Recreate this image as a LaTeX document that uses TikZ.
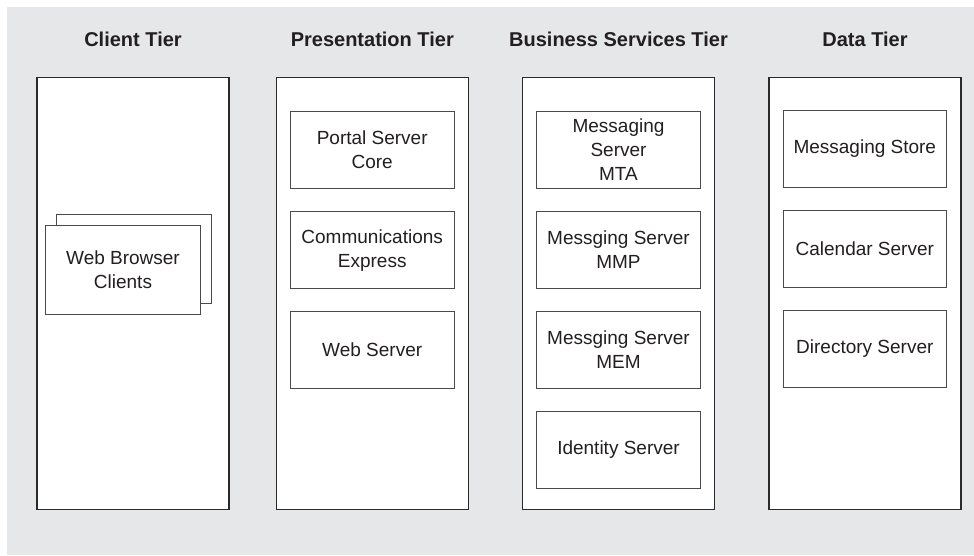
\documentclass[tikz,border=0pt]{standalone}
\usepackage{fontspec}
\setmainfont{Liberation Sans}
\definecolor{bgc}{HTML}{E6E7E8}
\definecolor{txtc}{HTML}{231F20}
\definecolor{tierc}{HTML}{2A2A2A}
\definecolor{compc}{HTML}{4A4A4A}
\begin{document}
\begin{tikzpicture}[x=1pt,y=-1pt,
  tier/.style={draw=tierc, line width=1.3pt, fill=white, inner sep=0pt,
    minimum width=192pt, minimum height=432pt},
  comp/.style={draw=compc, line width=0.9pt, fill=white, inner sep=0pt,
    minimum width=163.5pt, minimum height=77pt, align=center, text=txtc,
    font=\fontsize{19}{24}\selectfont},
  header/.style={anchor=base, text=txtc, font=\bfseries\fontsize{20}{24}\selectfont}]
\useasboundingbox (0,0) rectangle (974,555);
\fill[white] (0,0) rectangle (974,555);
\fill[bgc] (7,7) rectangle (974,555);

% headers
\node[header] (h1) at (133,46.5) {Client Tier};
\node[header] (h2) at (372.3,46.5) {Presentation Tier};
\node[header] (h3) at (618.5,46.5) {Business Services Tier};
\node[header] (h4) at (865,46.5) {Data Tier};

% tiers
\node[tier] (t1) at (133,293.5) {};
\node[tier] (t2) at (372.3,293.5) {};
\node[tier] (t3) at (618.5,293.5) {};
\node[tier] (t4) at (865,293.5) {};

% client tier
\node[comp, minimum width=154.6pt, minimum height=89.3pt] (wbback) at (134,258.7) {};
\node[comp, minimum width=154.6pt, minimum height=89.3pt] (wb) at (123,269.7) {Web Browser\\Clients};

% presentation tier
\node[comp] (psc) at (372.2,150.2) {Portal Server\\Core};
\node[comp] (ce) at (372.2,250.2) {Communications\\Express};
\node[comp] (ws) at (372.2,350.2) {Web Server};

% business services tier
\node[comp] (mta) at (618.5,150) {Messaging\\Server\\MTA};
\node[comp] (mmp) at (618.5,250) {Messging Server\\MMP};
\node[comp] (mem) at (618.5,350) {Messging Server\\MEM};
\node[comp] (ids) at (618.5,449.7) {Identity Server};

% data tier
\node[comp] (ms) at (864.8,148.8) {Messaging Store};
\node[comp] (cs) at (864.8,248.7) {Calendar Server};
\node[comp] (ds) at (864.8,348.7) {Directory Server};
\end{tikzpicture}
\end{document}
